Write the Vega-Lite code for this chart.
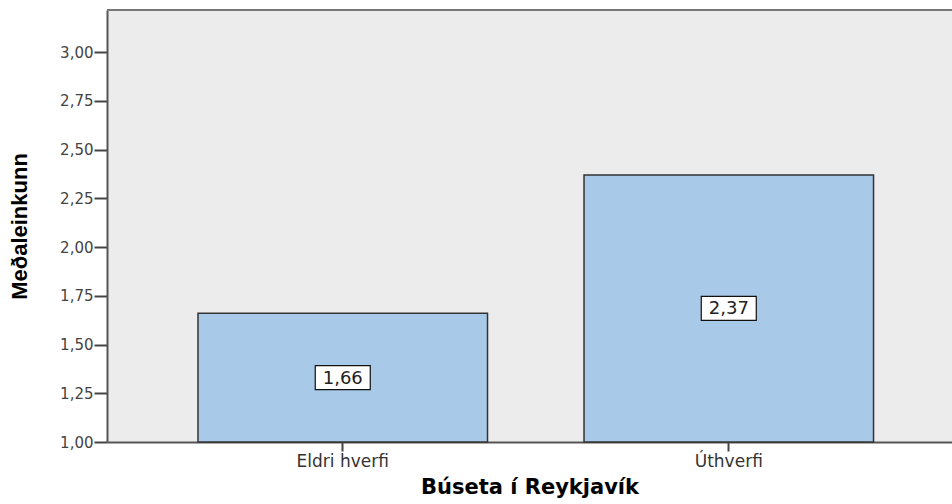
{
  "$schema": "https://vega.github.io/schema/vega-lite/v6.json",
  "width": 845,
  "height": 432,
  "autosize": {"type": "none"},
  "padding": {"left": 107, "top": 10, "right": 0, "bottom": 62},
  "background": "white",
  "config": {
    "locale": {"number": {"decimal": ",", "thousands": ".", "grouping": [3], "currency": ["", " kr."]}},
    "view": {"fill": "#ECECEC", "stroke": null}
  },
  "data": {"values": [
    {"hverfi": "Eldri hverfi", "value": 1.66},
    {"hverfi": "Úthverfi", "value": 2.37}
  ]},
  "layer": [
    {
      "mark": {"type": "bar", "color": "#A8CAE8", "stroke": "#333333", "strokeWidth": 1.5},
      "encoding": {
        "x": {
          "field": "hverfi", "type": "nominal", "sort": null,
          "scale": {"paddingInner": 0.25, "paddingOuter": 0.2195, "align": 0.537},
          "axis": {
            "title": "Búseta í Reykjavík", "labelAngle": 0,
            "labelFont": "DejaVu Sans", "labelFontSize": 17, "labelColor": "#333333",
            "labelPadding": 2,
            "tickSize": 9, "tickColor": "#444444", "tickWidth": 2,
            "domainColor": "#555555", "domainWidth": 2,
            "titleFont": "DejaVu Sans", "titleFontSize": 21, "titleFontWeight": "bold",
            "titleColor": "#000000", "titlePadding": 7
          }
        },
        "y": {
          "field": "value", "type": "quantitative",
          "scale": {"domain": [1, 3.216], "zero": false, "nice": false},
          "axis": {
            "title": "Meðaleinkunn", "values": [1, 1.25, 1.5, 1.75, 2, 2.25, 2.5, 2.75, 3],
            "format": ".2f", "grid": false,
            "labelFont": "DejaVu Sans", "labelFontSize": 15, "labelColor": "#444444",
            "labelPadding": 1,
            "tickSize": 13, "tickColor": "#444444", "tickWidth": 2,
            "domainColor": "#555555", "domainWidth": 2,
            "titleFont": "Liberation Sans", "titleFontSize": 22, "titleFontWeight": "bold",
            "titleColor": "#000000", "titlePadding": 28
          }
        },
        "y2": {"datum": 1}
      }
    },
    {
      "mark": {"type": "rule", "color": "#777777", "strokeWidth": 2},
      "encoding": {"y": {"datum": 3.216}}
    },
    {
      "transform": [{"calculate": "(datum.value + 1) / 2", "as": "mid"}],
      "mark": {"type": "point", "shape": "M-1,-0.436L1,-0.436L1,0.436L-1,0.436Z", "size": 3025, "filled": true, "fill": "white", "stroke": "#111111", "strokeWidth": 1.2, "opacity": 1},
      "encoding": {
        "x": {"field": "hverfi", "type": "nominal", "sort": null},
        "y": {"field": "mid", "type": "quantitative"}
      }
    },
    {
      "transform": [{"calculate": "(datum.value + 1) / 2", "as": "mid"}],
      "mark": {"type": "text", "font": "DejaVu Sans", "fontSize": 18, "color": "#222222", "baseline": "middle", "align": "center", "dy": 1},
      "encoding": {
        "x": {"field": "hverfi", "type": "nominal", "sort": null},
        "y": {"field": "mid", "type": "quantitative"},
        "text": {"field": "value", "type": "quantitative", "format": ".2f"}
      }
    }
  ]
}
